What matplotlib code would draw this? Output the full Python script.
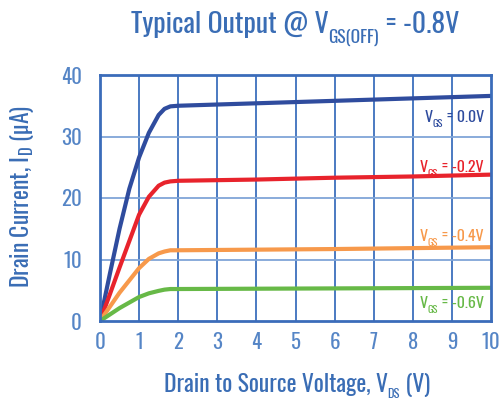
import matplotlib
matplotlib.use("Agg")
import matplotlib.pyplot as plt
from matplotlib import font_manager as fm

# Pick a condensed face for all chart text
_available = {f.name for f in fm.fontManager.ttflist}
_choice = next((n for n in ["Oswald", "Roboto Condensed", "Barlow Condensed", "Asap Condensed"]
                if n in _available), "DejaVu Sans")
plt.rcParams["font.family"] = [_choice, "DejaVu Sans"]
plt.rcParams["mathtext.fontset"] = "custom"
plt.rcParams["mathtext.rm"] = _choice
plt.rcParams["mathtext.default"] = "rm"

# Drain-source voltage (V) and drain current (uA) for each gate bias
vds_blue = [0, 0.25, 0.5, 0.75, 1.0, 1.25, 1.5, 1.65, 1.8, 2.0, 4.0, 6.0, 8.0, 10.0]
id_blue = [0, 7.6, 15.0, 21.5, 26.6, 30.6, 33.5, 34.5, 34.9, 35.0, 35.4, 35.8, 36.2, 36.6]

vds_red = [0, 0.25, 0.5, 0.75, 1.0, 1.25, 1.5, 1.65, 1.8, 2.0, 4.0, 6.0, 8.0, 10.0]
id_red = [0, 4.3, 8.7, 13.0, 17.3, 20.2, 22.0, 22.5, 22.7, 22.8, 23.0, 23.3, 23.5, 23.8]

vds_orange = [0, 0.5, 1.0, 1.25, 1.5, 1.65, 1.8, 2.0, 6.0, 10.0]
id_orange = [0, 4.6, 8.6, 10.1, 11.0, 11.3, 11.5, 11.5, 11.7, 12.0]

vds_green = [0, 0.5, 1.0, 1.25, 1.5, 1.65, 1.8, 2.0, 6.0, 10.0]
id_green = [0, 2.1, 3.9, 4.5, 4.9, 5.1, 5.2, 5.2, 5.3, 5.4]

series_labels = ["0.0V", "-0.2V", "-0.4V", "-0.6V"]
label_y = [32.4, 24.3, 13.0, 2.1]
colors = ["#2f4c9e", "#e8232c", "#f7994b", "#67b947"]

x_ticks = list(range(0, 11))
y_ticks = [0, 10, 20, 30, 40]

TEXT = "#3a6db5"
TICK = "#5585c6"
W, H = 501, 401

fig = plt.figure(figsize=(W / 100, H / 100), dpi=100)
ax = fig.add_axes([100 / W, 80 / H, 391 / W, 246 / H])
renderer = fig.canvas.get_renderer()


def rich_text(segments, x_px, base_px, align, color, weight="normal"):
    """Draw text runs side by side; each run is (string, size, drop in px)."""
    items = []
    for s, fs, drop in segments:
        t = fig.text(0, 0, s, fontsize=fs, color=color, ha="left", va="baseline",
                     fontweight=weight)
        items.append((t, t.get_window_extent(renderer).width, drop))
    total = sum(w for _, w, _ in items)
    x = {"center": x_px - total / 2, "right": x_px - total, "left": x_px}[align]
    for t, w, drop in items:
        t.set_position((x / W, 1 - (base_px + drop) / H))
        x += w


for xv in x_ticks[1:-1]:
    ax.axvline(xv, color="#3d6fbd", lw=1.3, zorder=1)
for yv in y_ticks[1:-1]:
    ax.axhline(yv, color="#80a5d8", lw=1.3, zorder=1)

series = [(vds_blue, id_blue), (vds_red, id_red), (vds_orange, id_orange), (vds_green, id_green)]
for (xs, ys), c in zip(series, colors):
    ax.plot(xs, ys, color=c, lw=3.0, solid_capstyle="round", solid_joinstyle="round", zorder=3)

ax.set_xlim(0, 10)
ax.set_ylim(0, 40)
ax.set_xticks(x_ticks)
ax.set_yticks(y_ticks)
ax.tick_params(length=0, labelsize=15, labelcolor=TICK)
ax.tick_params(axis="x", pad=8)
ax.tick_params(axis="y", pad=13)
for lbl in ax.get_xticklabels() + ax.get_yticklabels():
    lbl.set_fontweight("light")
for s in ax.spines.values():
    s.set_color("#3b6cba")
    s.set_linewidth(2.0)
    s.set_zorder(5)

# Curve labels at the right edge of the plot
for lab, yv, c in zip(series_labels, label_y, colors):
    px, py = ax.transData.transform((9.82, yv))
    rich_text([("V", 11.5, 0), ("GS", 7.5, 5), (" = " + lab, 11.5, 0)], px, H - py, "right", c,
              weight="light")

# Title and axis titles
rich_text([("Typical Output @ V", 20, 0), ("GS(OFF)", 12.5, 10), (" = -0.8V", 20, 0)],
          295, 33, "center", TEXT)
rich_text([("Drain to Source Voltage, V", 17, 0), ("DS", 9, 6), (" (V)", 17, 0)],
          297, 392, "center", TEXT)
fig.text(22 / W, 1 - 196 / H, r"Drain Current, I$_{\mathrm{D}}$ (µA)", fontsize=17,
         color=TEXT, rotation=90, ha="center", va="center")

fig.savefig("out.png", dpi=100)
